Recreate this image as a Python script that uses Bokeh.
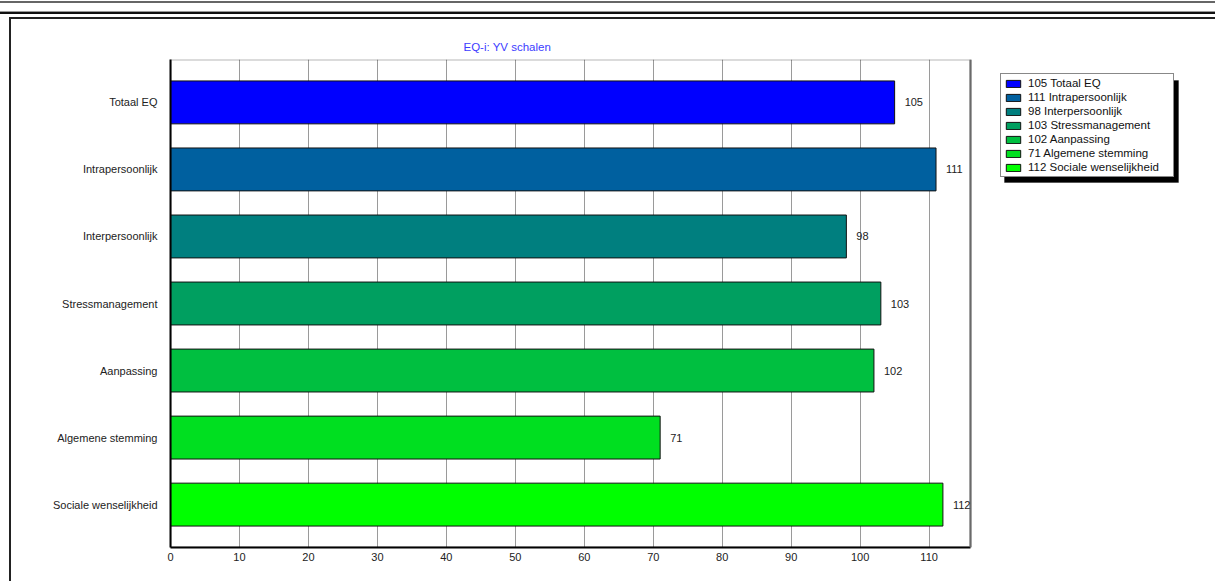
from bokeh.plotting import figure
from bokeh.models import (ColumnDataSource, FactorRange, LabelSet, Legend, LegendItem,
                          FixedTicker, Span, BoxAnnotation, Div)
from bokeh.layouts import column, row
from bokeh.embed import file_html
from bokeh.resources import INLINE
from bokeh.core.properties import value

title_text = "EQ-i: YV schalen"
categories = ["Totaal EQ", "Intrapersoonlijk", "Interpersoonlijk", "Stressmanagement",
              "Aanpassing", "Algemene stemming", "Sociale wenselijkheid"]
scores = [105, 111, 98, 103, 102, 71, 112]
colors = ["#0000ff", "#00609f", "#007f7f", "#009f60", "#00bf40", "#00df20", "#00ff00"]
x_ticks = [0, 10, 20, 30, 40, 50, 60, 70, 80, 90, 100, 110]
x_max = 116

FONT = "Liberation Sans"

# layout constants (pixels)
FIG_W, FIG_H = 1204, 562
BORDER_L, BORDER_T, BORDER_B = 159, 40, 34
AXIS_PX = 800  # width of the drawn value axis
frame_w = FIG_W - BORDER_L
x_end = x_max * frame_w / AXIS_PX

src = ColumnDataSource(dict(cat=categories, val=scores, color=colors,
                            txt=[str(v) for v in scores]))

p = figure(width=FIG_W, height=FIG_H, output_backend="svg", toolbar_location=None,
           y_range=FactorRange(*reversed(categories), range_padding=0.04),
           x_range=(0, x_end),
           min_border_left=BORDER_L, min_border_right=0, min_border_top=BORDER_T,
           min_border_bottom=BORDER_B)
p.background_fill_color = "white"
p.border_fill_color = "white"
p.outline_line_color = None

p.title.text = title_text
p.title.align = "left"
p.title.offset = 293
p.title.standoff = 13
p.title.text_font = FONT
p.title.text_font_size = "11.5px"
p.title.text_font_style = "normal"
p.title.text_color = "#3c3cff"

p.xaxis.ticker = FixedTicker(ticks=x_ticks)
p.xaxis.bounds = (0, x_max)
p.xgrid.ticker = FixedTicker(ticks=x_ticks)
p.xgrid.grid_line_color = "#9a9a9a"
p.xgrid.grid_line_width = 1
p.ygrid.grid_line_color = None

# plot-area box (top edge) and grey right edge
p.add_layout(BoxAnnotation(left=0, right=x_max, fill_color=None, fill_alpha=0,
                           line_color="#111111", line_width=2))
p.add_layout(Span(location=x_max, dimension="height", line_color="#6a6a6a", line_width=2))

bars = p.hbar(y="cat", right="val", left=0, height=0.64, source=src,
              fill_color="color", line_color="#111111", line_width=1)

for ax in (p.xaxis, p.yaxis):
    ax.axis_line_color = "#000000"
    ax.axis_line_width = 2
    ax.major_tick_line_color = None
    ax.minor_tick_line_color = None
    ax.major_tick_out = 0
    ax.major_tick_in = 0
    ax.minor_tick_out = 0
    ax.major_label_text_font = FONT
    ax.major_label_text_font_size = "11px"
    ax.major_label_text_color = "#222222"
p.xaxis.major_label_standoff = 5
p.yaxis.major_label_standoff = 13

p.add_layout(LabelSet(x="val", y="cat", text="txt", source=src, x_offset=10,
                      text_baseline="middle", text_align="left", text_font=value(FONT),
                      text_font_size="11px", text_color="#222222"))

# legend shadow
p.add_layout(BoxAnnotation(left=834, right=834 + 174, bottom=365, top=365 + 102,
                           left_units="screen", right_units="screen",
                           bottom_units="screen", top_units="screen",
                           fill_color="black", fill_alpha=1.0, line_color="black"))

items = [LegendItem(label=f"{v} {c}", renderers=[bars], index=i)
         for i, (c, v) in enumerate(zip(categories, scores))]
legend = Legend(items=items, location=(830, 370), orientation="vertical",
                label_text_font=FONT, label_text_font_size="11.5px", label_text_color="#111111",
                glyph_width=18, glyph_height=9, label_height=12, label_width=142,
                label_standoff=6, spacing=2, padding=3, margin=0,
                border_line_color="#111111", border_line_width=1,
                background_fill_color="white", background_fill_alpha=1.0)
p.add_layout(legend, "center")

top_html = (
    '<div style="position:relative;width:1215px;height:19px;">'
    '<div style="position:absolute;left:0;top:1px;width:1215px;height:2px;background:#666"></div>'
    '<div style="position:absolute;left:0;top:11px;width:1215px;height:1px;background:#999"></div>'
    '<div style="position:absolute;left:0;top:12px;width:1215px;height:2px;background:#111"></div>'
    '<div style="position:absolute;left:9px;top:17px;width:1206px;height:2px;background:#222"></div>'
    '</div>'
)
left_html = (
    '<div style="position:relative;width:11px;height:562px;">'
    '<div style="position:absolute;left:9px;top:0;width:2px;height:562px;background:#222"></div>'
    '</div>'
)
top_div = Div(text=top_html, width=1215, height=19, margin=0)
left_div = Div(text=left_html, width=11, height=FIG_H, margin=0)

layout = column(top_div, row(left_div, p, spacing=0), spacing=0)

open("out.html", "w").write(file_html(layout, INLINE))
